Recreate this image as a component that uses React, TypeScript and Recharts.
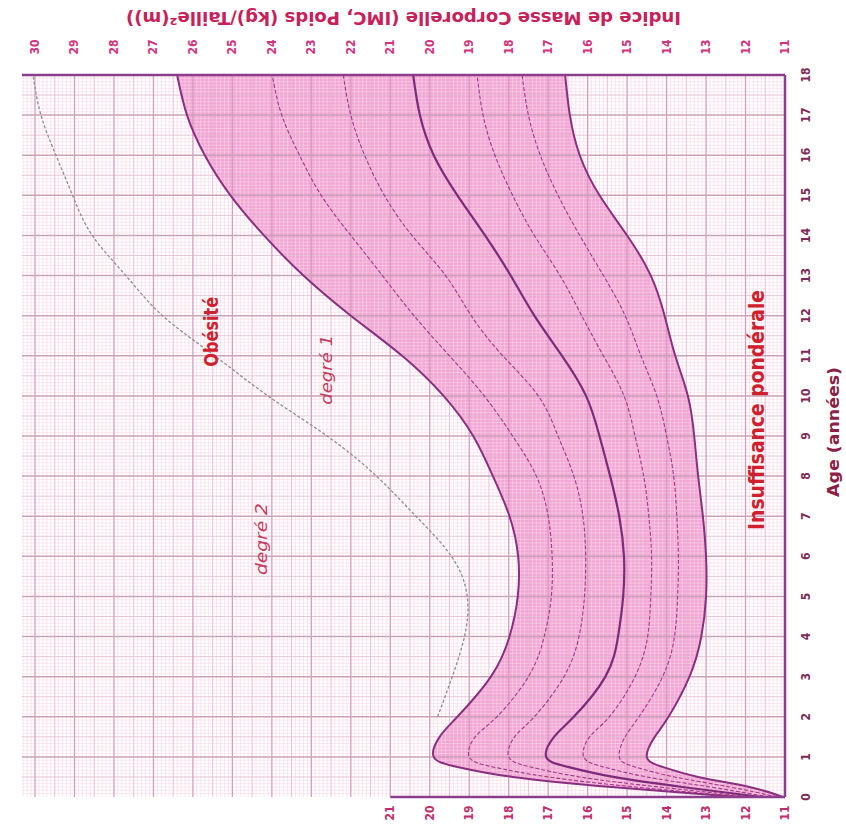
import React from "react";
import {
  ComposedChart,
  Area,
  Line,
  XAxis,
  YAxis,
  ReferenceLine,
  ReferenceDot,
} from "recharts";

// ages (years) and BMI percentile curves
const ages = [0, 0.25, 0.5, 0.75, 1, 1.5, 2, 3, 4, 5, 6, 7, 8, 9, 10, 11, 12, 13, 14, 15, 16, 17, 18];
const p97 = [12.2, 15.4, 17.9, 19.3, 19.9, 19.75, 19.3, 18.45, 17.98, 17.77, 17.76, 17.98, 18.4, 18.9, 19.65, 20.7, 22.0, 23.2, 24.2, 25.05, 25.7, 26.15, 26.4];
const p90 = [12.0, 14.8, 17.0, 18.4, 19.0, 18.85, 18.3, 17.5, 17.1, 16.92, 16.9, 17.0, 17.3, 17.9, 18.62, 19.5, 20.4, 21.2, 22.0, 22.75, 23.3, 23.75, 23.99];
const p75 = [11.8, 14.2, 16.2, 17.45, 18.0, 17.85, 17.35, 16.6, 16.22, 16.08, 16.05, 16.12, 16.35, 16.75, 17.25, 18.15, 18.95, 19.6, 20.45, 21.15, 21.65, 22.0, 22.19];
const p50 = [11.6, 13.6, 15.35, 16.5, 17.05, 16.85, 16.35, 15.55, 15.23, 15.1, 15.08, 15.2, 15.43, 15.7, 16.04, 16.65, 17.35, 17.95, 18.6, 19.3, 19.9, 20.25, 20.42];
const p25 = [11.4, 12.9, 14.5, 15.6, 16.1, 15.95, 15.45, 14.8, 14.48, 14.4, 14.38, 14.45, 14.58, 14.8, 15.08, 15.6, 16.15, 16.7, 17.35, 17.9, 18.35, 18.65, 18.8];
const p10 = [11.2, 12.4, 13.8, 14.8, 15.2, 15.05, 14.7, 14.1, 13.8, 13.72, 13.7, 13.74, 13.82, 14.0, 14.25, 14.65, 15.05, 15.6, 16.2, 16.75, 17.2, 17.5, 17.66];
const p3 = [11.05, 11.9, 13.2, 14.1, 14.5, 14.3, 13.95, 13.42, 13.12, 13.0, 13.0, 13.08, 13.2, 13.3, 13.46, 13.78, 14.05, 14.4, 15.0, 15.7, 16.2, 16.45, 16.57];
// grey dashed line between "degré 1" and "degré 2" (starts at 2 years)
const iotf = [null, null, null, null, null, null, 19.8, 19.43, 19.12, 19.05, 19.45, 20.35, 21.35, 22.6, 24.1, 25.45, 26.77, 27.7, 28.55, 29.05, 29.47, 29.85, 30.05];

const bmiTicks = [11, 12, 13, 14, 15, 16, 17, 18, 19, 20, 21, 22, 23, 24, 25, 26, 27, 28, 29, 30];
const bottomTicks = [11, 12, 13, 14, 15, 16, 17, 18, 19, 20, 21];
const ageTicks = [0, 1, 2, 3, 4, 5, 6, 7, 8, 9, 10, 11, 12, 13, 14, 15, 16, 17, 18];

const TITLE = "Indice de Masse Corporelle (IMC, Poids (kg)/Taille²(m))";
const FONT = '"DejaVu Sans Condensed", "Liberation Sans Narrow", sans-serif';
const FRAME = "#8c3d8c";
const CURVE = "natural";

const data = ages.map((age, i) => ({
  age,
  p97: p97[i],
  p90: p90[i],
  p75: p75[i],
  p50: p50[i],
  p25: p25[i],
  p10: p10[i],
  p3: p3[i],
  iotf: iotf[i],
}));

function steps(from: number, to: number, step: number) {
  const out: number[] = [];
  for (let i = 0; from + i * step <= to + 1e-9; i++) {
    out.push(Math.round((from + i * step) * 10000) / 10000);
  }
  return out;
}

const isWhole = (v: number, n: number) => Math.abs(v * n - Math.round(v * n)) < 1e-6;

// graph-paper grid
const minorX = steps(11.1, 30.3, 0.1).filter((v) => !isWhole(v, 2));
const halfX = steps(11.5, 30, 1);
const majorX = steps(12, 30, 1);
const minorY = steps(1 / 12, 18, 1 / 12).filter((v) => !isWhole(v, 2));
const halfY = steps(0.5, 17.5, 1);
const majorY = steps(1, 17, 1);

const TopTick = (props: any) => {
  const { x, y, payload } = props;
  return (
    <text
      transform={`translate(${x},${y - 28}) rotate(-90)`}
      textAnchor="middle"
      dominantBaseline="central"
      fill="#d2327e"
      fontSize={12}
      fontWeight="bold"
      fontFamily={FONT}
    >
      {payload.value}
    </text>
  );
};

const BottomTick = (props: any) => {
  const { x, y, payload } = props;
  return (
    <text
      transform={`translate(${x},${y + 16}) rotate(-90)`}
      textAnchor="middle"
      dominantBaseline="central"
      fill="#c42a6c"
      fontSize={12}
      fontWeight="bold"
      fontFamily={FONT}
    >
      {payload.value}
    </text>
  );
};

const RightTick = (props: any) => {
  const { x, y, payload } = props;
  return (
    <text
      transform={`translate(${x + 21},${y}) rotate(-90)`}
      textAnchor="middle"
      dominantBaseline="central"
      fill="#7e2a58"
      fontSize={12}
      fontWeight="bold"
      fontFamily={FONT}
    >
      {payload.value}
    </text>
  );
};

function textLabel(
  text: string,
  opts: { size: number; length: number; color: string; bold?: boolean; italic?: boolean; angle?: number }
) {
  return (props: any) => {
    const vb = props.viewBox || {};
    const cx = vb.x + (vb.width || 0) / 2;
    const cy = vb.y + (vb.height || 0) / 2;
    return (
      <text
        x={cx}
        y={cy}
        transform={`rotate(${opts.angle ?? -90} ${cx} ${cy})`}
        textAnchor="middle"
        dominantBaseline="central"
        fill={opts.color}
        fontSize={opts.size}
        fontWeight={opts.bold ? "bold" : "normal"}
        fontStyle={opts.italic ? "italic" : "normal"}
        fontFamily={FONT}
        textLength={opts.length}
        lengthAdjust="spacingAndGlyphs"
      >
        {text}
      </text>
    );
  };
}

const TitleLabel = (props: any) => {
  const vb = props.viewBox || {};
  const cx = vb.x + vb.width / 2;
  const cy = vb.y + 18;
  return (
    <text
      x={cx}
      y={cy}
      transform={`rotate(180 ${cx} ${cy})`}
      textAnchor="middle"
      dominantBaseline="central"
      fill="#c8215a"
      fontSize={17}
      fontWeight="bold"
      fontFamily={FONT}
      textLength={555}
      lengthAdjust="spacingAndGlyphs"
    >
      {TITLE}
    </text>
  );
};

const AgeLabel = (props: any) => {
  const vb = props.viewBox || {};
  const cx = vb.x + 48;
  const cy = vb.y + 357;
  return (
    <text
      x={cx}
      y={cy}
      transform={`rotate(-90 ${cx} ${cy})`}
      textAnchor="middle"
      dominantBaseline="central"
      fill="#8b2045"
      fontSize={16}
      fontWeight="bold"
      fontFamily={FONT}
      textLength={130}
      lengthAdjust="spacingAndGlyphs"
    >
      Age (années)
    </text>
  );
};

const dashed = { stroke: "#a2388a", strokeWidth: 1.1, strokeDasharray: "4 2" };

export default function App() {
  return (
    <div style={{ position: "absolute", left: 0, top: 0, width: 846, height: 833, background: "#fff" }}>
      <ComposedChart
        width={846}
        height={833}
        data={data}
        layout="vertical"
        margin={{ top: 0, right: 0, bottom: 0, left: 22 }}
      >
        <XAxis
          type="number"
          orientation="top"
          domain={[11, 30.33]}
          reversed
          allowDataOverflow
          ticks={bmiTicks}
          interval={0}
          height={75}
          tickSize={0}
          tickMargin={0}
          tick={<TopTick />}
          axisLine={{ stroke: FRAME, strokeWidth: 2.5 }}
          label={<TitleLabel />}
        />
        <XAxis
          xAxisId="bottom"
          type="number"
          orientation="bottom"
          domain={[11, 30.33]}
          reversed
          allowDataOverflow
          ticks={bottomTicks}
          interval={0}
          height={36}
          tickSize={0}
          tickMargin={0}
          tick={<BottomTick />}
          axisLine={false}
        />
        <YAxis
          type="number"
          dataKey="age"
          orientation="right"
          domain={[0, 18]}
          reversed
          ticks={ageTicks}
          interval={0}
          width={61}
          tickSize={0}
          tickMargin={0}
          tick={<RightTick />}
          axisLine={{ stroke: FRAME, strokeWidth: 2.5 }}
          label={<AgeLabel />}
        />

        {minorX.map((v) => (
          <ReferenceLine key={`mx${v}`} x={v} stroke="#f6d6e6" strokeWidth={0.6} />
        ))}
        {minorY.map((v) => (
          <ReferenceLine key={`my${v}`} y={v} stroke="#f6d6e6" strokeWidth={0.6} />
        ))}
        {halfX.map((v) => (
          <ReferenceLine key={`hx${v}`} x={v} stroke="#edb9d3" strokeWidth={0.9} />
        ))}
        {halfY.map((v) => (
          <ReferenceLine key={`hy${v}`} y={v} stroke="#e4c2d4" strokeWidth={0.9} />
        ))}
        {majorX.map((v) => (
          <ReferenceLine key={`jx${v}`} x={v} stroke="#d89cbf" strokeWidth={1.3} />
        ))}
        {majorY.map((v) => (
          <ReferenceLine key={`jy${v}`} y={v} stroke="#c9a3b9" strokeWidth={1.5} />
        ))}

        <Area
          type={CURVE}
          dataKey={(d: any) => [d.p3, d.p97]}
          stroke="none"
          fill="#f08ccb"
          fillOpacity={0.78}
          isAnimationActive={false}
        />
        <Line type={CURVE} dataKey="p90" dot={false} {...dashed} isAnimationActive={false} />
        <Line type={CURVE} dataKey="p75" dot={false} {...dashed} isAnimationActive={false} />
        <Line type={CURVE} dataKey="p25" dot={false} {...dashed} isAnimationActive={false} />
        <Line type={CURVE} dataKey="p10" dot={false} {...dashed} isAnimationActive={false} />
        <Line type={CURVE} dataKey="p97" dot={false} stroke="#8a2f80" strokeWidth={2} isAnimationActive={false} />
        <Line type={CURVE} dataKey="p50" dot={false} stroke="#7d2a7a" strokeWidth={2.2} isAnimationActive={false} />
        <Line type={CURVE} dataKey="p3" dot={false} stroke="#8a2f80" strokeWidth={2} isAnimationActive={false} />
        <Line
          type={CURVE}
          dataKey="iotf"
          dot={false}
          stroke="#8e8e8e"
          strokeWidth={1.3}
          strokeDasharray="3 2"
          connectNulls={false}
          isAnimationActive={false}
        />

        <ReferenceLine
          segment={[{ x: 21, y: 0 }, { x: 11, y: 0 }]}
          stroke={FRAME}
          strokeWidth={2.5}
          ifOverflow="visible"
        />

        <ReferenceDot
          x={25.55}
          y={11.6}
          r={1}
          fill="none"
          stroke="none"
          label={textLabel("Obésité", { size: 20, length: 70, color: "#d0202e", bold: true })}
        />
        <ReferenceDot
          x={22.6}
          y={10.65}
          r={1}
          fill="none"
          stroke="none"
          label={textLabel("degré 1", { size: 15, length: 70, color: "#c63a5c", italic: true })}
        />
        <ReferenceDot
          x={24.24}
          y={6.43}
          r={1}
          fill="none"
          stroke="none"
          label={textLabel("degré 2", { size: 15, length: 72, color: "#c63a5c", italic: true })}
        />
        <ReferenceDot
          x={11.71}
          y={9.65}
          r={1}
          fill="none"
          stroke="none"
          label={textLabel("Insuffisance pondérale", { size: 22, length: 240, color: "#d0202e", bold: true })}
        />
      </ComposedChart>
    </div>
  );
}
